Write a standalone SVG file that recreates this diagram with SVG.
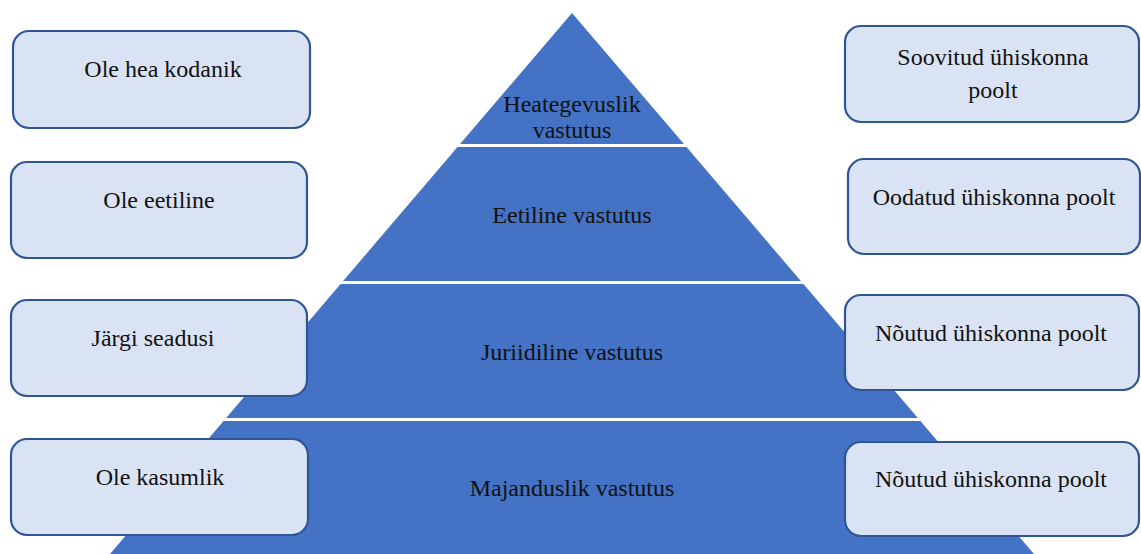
<svg xmlns="http://www.w3.org/2000/svg" width="1141" height="554" viewBox="0 0 1141 554" font-family="Liberation Serif, Times New Roman, serif">
<style>
.box{fill:#dae3f3;stroke:#2f5597;stroke-width:2.2}
.t{font-size:24px;fill:#111;text-anchor:middle}
.sep{stroke:#fff;stroke-width:3}
</style>
<rect width="1141" height="554" fill="#fff"/>
<g id="pyramid">
<polygon points="572,13 1034,554 110,554" fill="#4472c4"/>
<line class="sep" x1="440" y1="145.5" x2="704" y2="145.5"/>
<line class="sep" x1="320" y1="282.5" x2="824" y2="282.5"/>
<line class="sep" x1="200" y1="419.5" x2="944" y2="419.5"/>
</g>
<g id="layer-1"><text class="t" font-family="Liberation Serif" x="572" y="112">Heategevuslik</text><text class="t" font-family="Liberation Serif" x="572" y="138">vastutus</text></g>
<g id="layer-2"><text class="t" font-family="Liberation Serif" x="572" y="223">Eetiline vastutus</text></g>
<g id="layer-3"><text class="t" font-family="Liberation Serif" x="572" y="360">Juriidiline vastutus</text></g>
<g id="layer-4"><text class="t" font-family="Liberation Serif" x="572" y="496">Majanduslik vastutus</text></g>
<g id="left-1"><rect class="box" x="13" y="31" width="297" height="97" rx="16"/><text class="t" font-family="Liberation Serif" x="163" y="77">Ole hea kodanik</text></g>
<g id="left-2"><rect class="box" x="11" y="162" width="296" height="96" rx="16"/><text class="t" font-family="Liberation Serif" x="159" y="208">Ole eetiline</text></g>
<g id="left-3"><rect class="box" x="11" y="300" width="296" height="96" rx="16"/><text class="t" font-family="Liberation Serif" x="153" y="346">Järgi seadusi</text></g>
<g id="left-4"><rect class="box" x="11" y="439" width="297" height="96" rx="16"/><text class="t" font-family="Liberation Serif" x="160" y="485">Ole kasumlik</text></g>
<g id="right-1"><rect class="box" x="845" y="26" width="294" height="96" rx="16"/><text class="t" font-family="Liberation Serif" x="993" y="65">Soovitud ühiskonna</text><text class="t" font-family="Liberation Serif" x="993" y="98">poolt</text></g>
<g id="right-2"><rect class="box" x="848" y="159" width="292" height="95" rx="16"/><text class="t" font-family="Liberation Serif" x="994" y="205">Oodatud ühiskonna poolt</text></g>
<g id="right-3"><rect class="box" x="845" y="295" width="294" height="95" rx="16"/><text class="t" font-family="Liberation Serif" x="991" y="341">Nõutud ühiskonna poolt</text></g>
<g id="right-4"><rect class="box" x="845" y="442" width="294" height="94" rx="16"/><text class="t" font-family="Liberation Serif" x="991" y="487">Nõutud ühiskonna poolt</text></g>
<g id="connectors"/>
</svg>
